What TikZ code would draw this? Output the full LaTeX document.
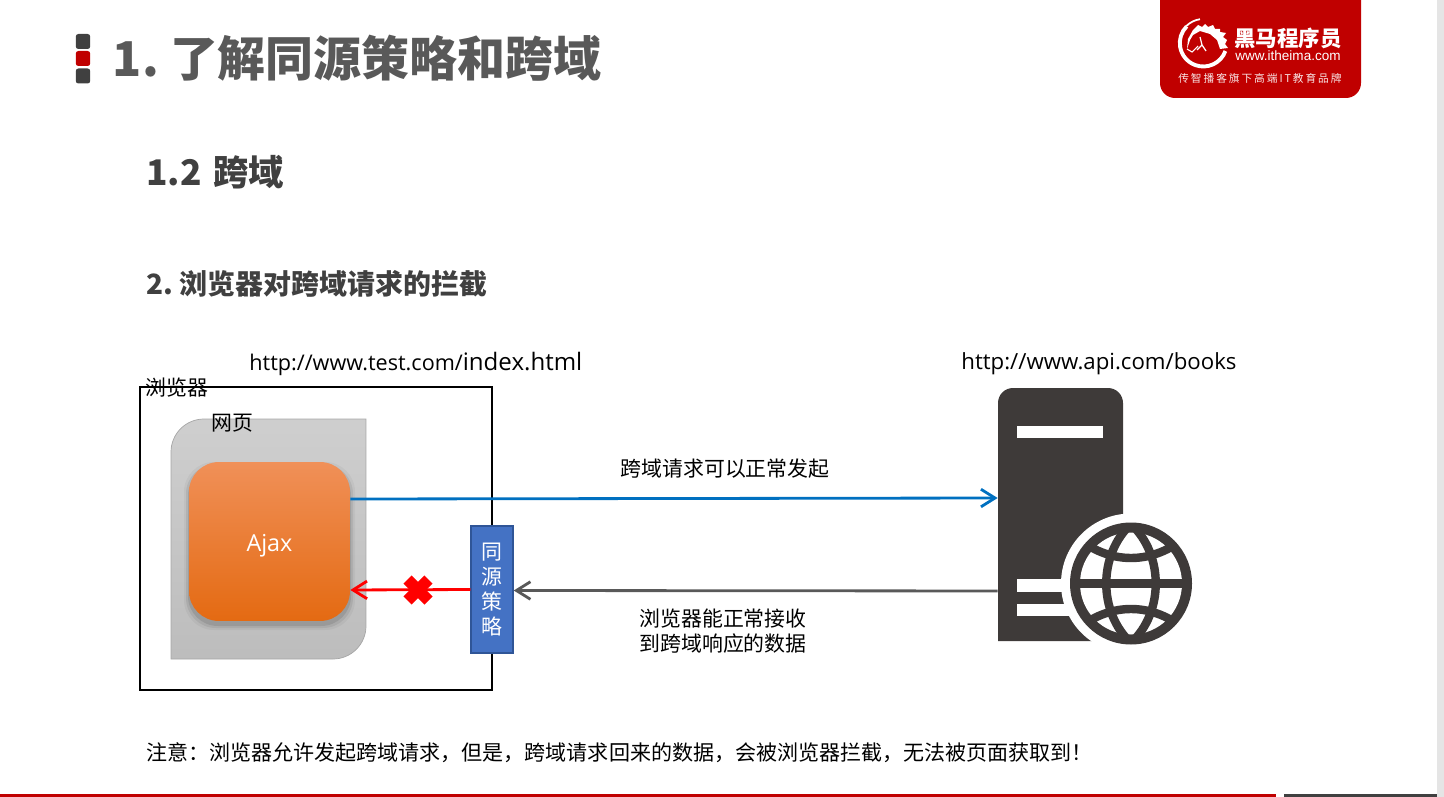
\documentclass[tikz,border=0pt]{standalone}
\usepackage{fontspec}
\setmainfont{Open Sans}
\newfontfamily\cjk{Noto Sans CJK SC}
\newfontfamily\logolatin{Liberation Sans}
\usetikzlibrary{arrows.meta,shapes.misc}
\definecolor{titlegray}{HTML}{595959}
\definecolor{headgray}{HTML}{404040}
\definecolor{logored}{HTML}{C00000}
\definecolor{serverdark}{HTML}{3E3A39}
\definecolor{reqblue}{HTML}{0070C0}
\definecolor{policyblue}{HTML}{4472C4}
\definecolor{policyedge}{HTML}{2F5597}
\definecolor{backgray}{HTML}{595959}
\definecolor{ajaxtop}{HTML}{F09058}
\definecolor{ajaxmid}{HTML}{F57D29}
\definecolor{ajaxbot}{HTML}{E46A12}
\tikzset{
	label21/.style={inner sep=0, font=\cjk\fontsize{11.9}{14.2}\selectfont, align=center},
	bullet/.style={shape=rectangle, rounded corners=1.5pt, inner sep=0, minimum width=0.29cm, minimum height=0.3cm},
	arrowline/.style={line width=1.6pt, -{Straight Barb[length=8pt, width=10pt, line width=1.6pt]}},
}
\begin{document}
\begin{tikzpicture}[x=0.02cm, y=-0.02cm]
	\useasboundingbox (0, 0) rectangle (1444, 797);
	% Slide furniture:
	\fill[gray!20] (1437, 0) rectangle (1444, 797);
	\fill[logored] (0, 794) rectangle (1276, 797);
	\fill[headgray] (1284, 794) rectangle (1437, 797);
	\node[bullet, fill=headgray] (Bullet1) at (83, 41.5) {};
	\node[bullet, fill=logored] (Bullet2) at (83, 58.5) {};
	\node[bullet, fill=headgray] (Bullet3) at (83, 76) {};
	\node[anchor=west, inner sep=0, text=titlegray, font=\cjk\bfseries\fontsize{27.3}{32}\selectfont] (Title) at (112.5, 58) {1.\hspace{-2pt} 了解同源策略和跨域};
	\node[anchor=west, inner sep=0, text=headgray, font=\cjk\bfseries\fontsize{20.1}{24}\selectfont] (Head1) at (146, 172) {1.2\hspace{2pt} 跨域};
	\node[anchor=west, inner sep=0, text=headgray, font=\cjk\bfseries\fontsize{15.9}{19}\selectfont] (Head2) at (146, 284) {2.\hspace{-1pt} 浏览器对跨域请求的拦截};
	% Logo:
	\fill[logored] (1160, 0) -- (1361, 0) [rounded corners=0.3cm] -- (1361, 98) -- (1160, 98) [sharp corners] -- cycle;
	\draw[white, line width=2.2pt] (1203.3, 43) ++(20:23.5) arc[start angle=20, end angle=225, radius=23.5];
	\draw[white, line width=1pt] (1203.3, 43) ++(225:24) arc[start angle=225, end angle=262, radius=24];
	\fill[white] (1193, 30) -- (1198, 25) -- (1202, 27) -- (1205, 24) -- (1208, 27) -- (1213, 25) -- (1215, 29) -- (1220, 29) -- (1220, 32) -- (1226, 33) -- (1223, 37) -- (1227, 40) -- (1225, 44) -- (1228, 48) -- (1220, 49) -- (1217, 40) -- (1210, 34) -- (1200, 31) -- (1193, 35) -- (1190, 40) -- (1187, 49) -- (1188, 39) -- cycle;
	\draw[white, line width=0.6pt] (1187, 49) -- (1192, 52) -- (1198, 46);
	\draw[white, line width=0.7pt] (1197, 50) -- (1202, 45) -- (1206, 51) (1202, 45) -- (1200, 37);
	\node[anchor=west, inner sep=0, text=white, font=\cjk\bfseries\fontsize{12.2}{14}\selectfont] (LogoName) at (1234, 38) {黑马程序员};
	\node[anchor=west, inner sep=0, text=white, font=\logolatin\fontsize{7.7}{10}\selectfont] (LogoSite) at (1235, 56) {www.itheima.com};
	\node[anchor=west, inner sep=0, text=white!90!logored, font=\cjk\fontsize{6.1}{8}\addfontfeature{LetterSpace=18}\selectfont] (LogoTag) at (1178, 78) {传智播客旗下高端IT教育品牌};
	% Browser side:
	\node[shape=rectangle, draw=black, line width=1.3pt, inner sep=0, minimum width=7.04cm, minimum height=6.06cm] (Browser) at (316, 538.5) {};
	\path[draw=black!35, top color=black!19, bottom color=black!26] (171, 659) [rounded corners=0.66cm] -- (171, 419) [sharp corners] -- (366, 419) [rounded corners=0.66cm] -- (366, 659) [sharp corners] -- cycle;
	\foreach \grow/\shade in {5/4, 3/7, 1/10} {
		\fill[black, opacity=\shade/100, rounded corners=0.6cm] (189-\grow, 467-\grow) rectangle (350+\grow, 625+\grow);
	}
	\node[shape=rectangle, rounded corners=0.6cm, inner sep=0, minimum width=3.22cm, minimum height=3.18cm, top color=ajaxtop, middle color=ajaxmid, bottom color=ajaxbot, text=white, font=\fontsize{13.3}{16}\selectfont] (Ajax) at (269.5, 541.5) {\raisebox{0pt}[0.5cm][0.12cm]{Ajax}};
	\node[label21, anchor=center] (BrowserText) at (177, 388) {浏览器};
	\node[label21, anchor=center] (PageText) at (232.5, 423) {网页};
	\node[shape=rectangle, draw=policyedge, line width=0.85pt, fill=policyblue, text=white, label21, minimum width=0.84cm, minimum height=2.54cm] (Policy) at (492, 589.5) {同\\源\\策\\略};
	\node[anchor=west, inner sep=0, font=\fontsize{12.3}{16}\selectfont] (TestUrl) at (249, 363.5) {http://www.test.com/{\fontsize{13.7}{16}\selectfont index.html}};
	% Server with globe:
	\node[shape=rectangle, inner sep=0, minimum width=2.5cm, minimum height=5.06cm] (Server) at (1060.5, 514.5) {};
	\fill[serverdark] (998, 641) [rounded corners=0.3cm] -- (998, 388) -- (1123, 388) [sharp corners] -- (1123, 641) -- cycle;
	\fill[white] (1017, 426) rectangle (1103, 438);
	\fill[white] (1017, 579) rectangle (1070, 592);
	\fill[white] (1017, 604) rectangle (1080, 616);
	\fill[white] (1131, 583.5) circle[radius=70];
	\fill[serverdark] (1131, 583.5) circle[radius=61];
	\fill[white] (1131, 583.5) circle[radius=51];
	\begin{scope}
		\clip (1131, 583.5) circle[radius=54];
		\draw[serverdark, line width=4.8pt] (1131, 524) .. controls (1098, 555) and (1098, 612) .. (1131, 643);
		\draw[serverdark, line width=4.8pt] (1131, 524) .. controls (1164, 555) and (1164, 612) .. (1131, 643);
		\draw[serverdark, line width=4.8pt] (1075, 583.5) -- (1187, 583.5);
		\draw[serverdark, line width=4.8pt] (1080, 540) .. controls (1112, 564) and (1150, 564) .. (1182, 540);
		\draw[serverdark, line width=4.8pt] (1080, 627) .. controls (1112, 603) and (1150, 603) .. (1182, 627);
	\end{scope}
	\node[anchor=west, inner sep=0, font=\fontsize{12.65}{16}\selectfont] (ApiUrl) at (961, 364) {http://www.api.com/books};
	% Arrows and their labels:
	\draw[arrowline, reqblue] ([yshift=0.85cm]Ajax.east) -- ([yshift=0.33cm]Server.west);
	\draw[arrowline, backgray] ([yshift=-1.53cm]Server.west) -- ([yshift=-0.02cm]Policy.east);
	\draw[arrowline, red] (Policy.west) -- ([yshift=-0.97cm]Ajax.east);
	\node[shape=cross out, draw=red, line width=6.5pt, inner sep=0, outer sep=0, minimum size=0.42cm] (Block) at (418, 590) {};
	\node[label21] (ReqText) at (725, 469) {跨域请求可以正常发起};
	\node[label21] (RespText) at (723, 631.5) {浏览器能正常接收\\到跨域响应的数据};
	\node[label21, anchor=west, font=\cjk\fontsize{11.97}{14.2}\selectfont] (Note) at (146, 753) {注意^^^^ff1a浏览器允许发起跨域请求^^^^ff0c但是^^^^ff0c跨域请求回来的数据^^^^ff0c会被浏览器拦截^^^^ff0c无法被页面获取到^^^^ff01};
\end{tikzpicture}
\end{document}
